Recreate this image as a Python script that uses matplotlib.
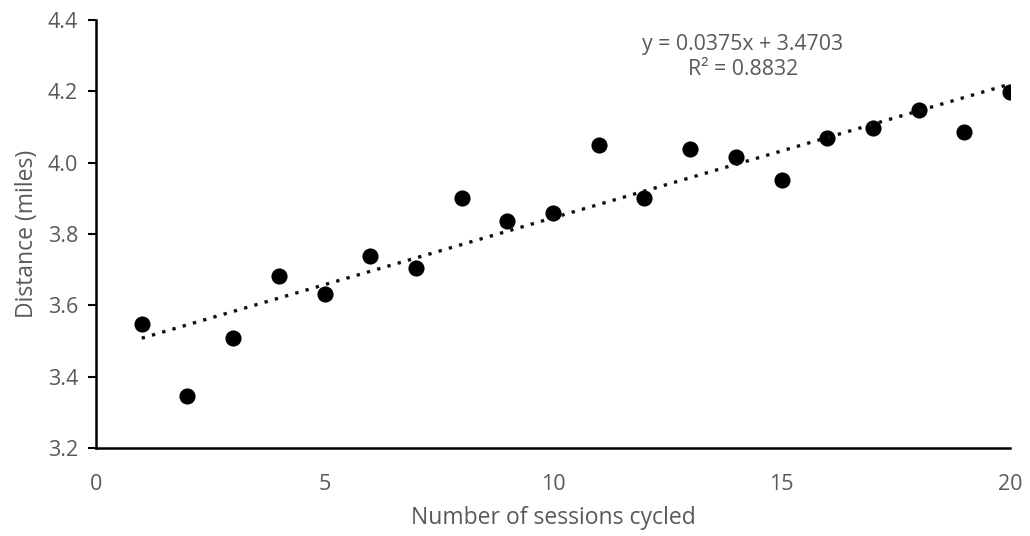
import matplotlib
matplotlib.use("Agg")
import matplotlib.pyplot as plt
import numpy as np

sessions = [1, 2, 3, 4, 5, 6, 7, 8, 9, 10, 11, 12, 13, 14, 15, 16, 17, 18, 19, 20]
distance = [3.547, 3.345, 3.507, 3.683, 3.633, 3.738, 3.704, 3.900, 3.836, 3.858,
            4.050, 3.902, 4.039, 4.017, 3.952, 4.068, 4.096, 4.147, 4.086, 4.198]
slope, intercept = 0.0375, 3.4703
eq_text = "y = 0.0375x + 3.4703\nR² = 0.8832"
xticks = [0, 5, 10, 15, 20]
yticks = [3.2, 3.4, 3.6, 3.8, 4.0, 4.2, 4.4]

plt.rcParams['font.family'] = ['Open Sans', 'DejaVu Sans']
gray = '#595959'

fig = plt.figure(figsize=(10.30, 5.36), dpi=100)
ax = fig.add_axes([0.0932, 0.1642, 0.9806 - 0.0932, 0.9627 - 0.1642])

ax.scatter(sessions, distance, s=135, color='black', zorder=3, linewidths=0)
tx = np.array([sessions[0], sessions[-1]], dtype=float)
ax.plot(tx, slope * tx + intercept, linestyle=(0, (1, 2.2)), color='#0a1020', linewidth=2.4, zorder=4)

ax.set_xlim(0, 20)
ax.set_ylim(3.2, 4.4)
ax.set_xticks(xticks)
ax.set_yticks(yticks)
ax.set_yticklabels([f"{v:.1f}" for v in yticks])
ax.tick_params(axis='x', length=0, pad=19, labelsize=15.5, labelcolor=gray)
ax.tick_params(axis='y', length=6, width=1.5, direction='out', pad=7, labelsize=15.5, labelcolor=gray)
for s in ['top', 'right']:
    ax.spines[s].set_visible(False)
for s in ['left', 'bottom']:
    ax.spines[s].set_linewidth(1.8)
    ax.spines[s].set_color('black')

ax.set_xlabel("Number of sessions cycled", fontsize=16.5, color=gray, labelpad=8)
ax.set_ylabel("Distance (miles)", fontsize=16.5, color=gray, labelpad=6)

ax.text(14.15, 4.295, eq_text, ha='center', va='center', fontsize=15.3, color=gray, linespacing=1.25)

fig.savefig("out.png", dpi=100)
